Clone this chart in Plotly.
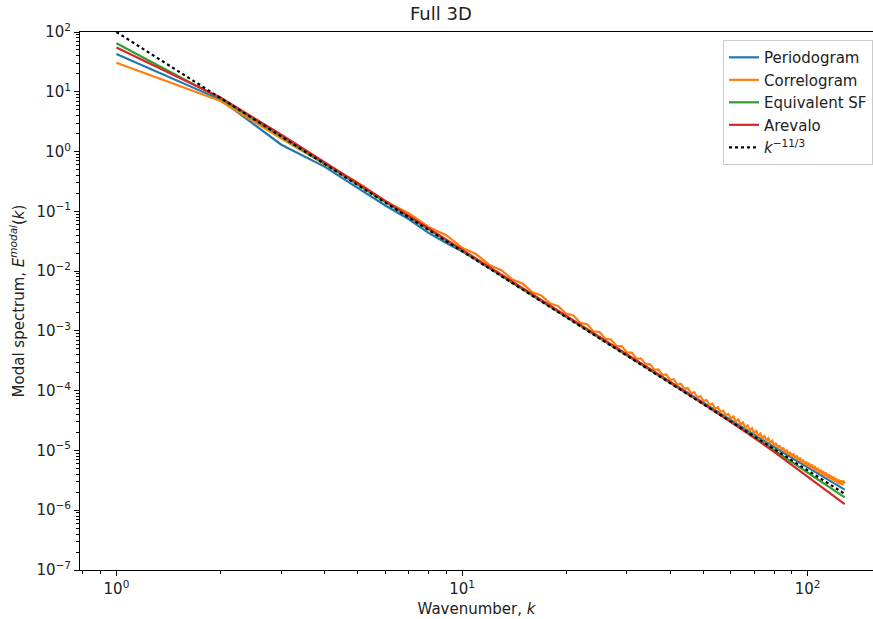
import plotly.graph_objects as go

# Wavenumbers of the smooth estimators (sampled) and of the correlogram (every integer k)
k_smooth = [1, 2, 3, 4, 5, 6, 7, 8, 9, 10, 12, 14, 16, 20, 25, 32, 40, 50, 64, 80, 100, 128]
k_full = list(range(1, 129))

periodogram = [43.0, 7.4, 1.3, 0.56, 0.244, 0.125, 0.0743, 0.0436, 0.0296, 0.0215,
               0.0113, 6.49e-3, 3.98e-3, 1.778e-3, 7.83e-4, 3.17e-4, 1.40e-4, 6.17e-5,
               2.52e-5, 1.14e-5, 5.21e-6, 2.21e-6]

equivalent_sf = [65.0, 7.69, 1.78, 0.634, 0.280, 0.1435, 0.0815, 0.0500, 0.0324, 0.0220,
                 0.0113, 6.45e-3, 3.95e-3, 1.745e-3, 7.69e-4, 3.10e-4, 1.368e-4, 5.96e-5,
                 2.38e-5, 1.005e-5, 4.28e-6, 1.64e-6]

arevalo = [55.0, 8.05, 1.91, 0.664, 0.293, 0.150, 0.0853, 0.0524, 0.0340, 0.0231,
           0.01183, 6.72e-3, 4.12e-3, 1.82e-3, 8.02e-4, 3.21e-4, 1.40e-4, 6.03e-5,
           2.33e-5, 9.48e-6, 3.69e-6, 1.27e-6]

correlogram = [
    30.6, 7.0, 1.65, 0.62, 0.300, 0.1468, 0.0936, 0.0548, 0.0399, 0.0247,
    0.01912, 0.01268, 0.01036, 7.20e-3, 6.13e-3, 4.41e-3, 3.88e-3, 2.87e-3, 2.58e-3, 1.95e-3,
    1.806e-3, 1.358e-3, 1.294e-3, 9.87e-4, 9.53e-4, 7.36e-4, 7.19e-4, 5.61e-4, 5.53e-4, 4.35e-4,
    4.33e-4, 3.44e-4, 3.44e-4, 2.75e-4, 2.78e-4, 2.23e-4, 2.26e-4, 1.83e-4, 1.87e-4, 1.52e-4,
    1.554e-4, 1.268e-4, 1.305e-4, 1.069e-4, 1.104e-4, 9.08e-5, 9.42e-5, 7.77e-5, 8.08e-5, 6.69e-5,
    6.98e-5, 5.79e-5, 6.06e-5, 5.04e-5, 5.29e-5, 4.42e-5, 4.64e-5, 3.88e-5, 4.09e-5, 3.43e-5,
    3.70e-5, 3.04e-5, 3.29e-5, 2.71e-5, 2.94e-5, 2.42e-5, 2.63e-5, 2.17e-5, 2.36e-5, 1.949e-5,
    2.12e-5, 1.757e-5, 1.918e-5, 1.589e-5, 1.737e-5, 1.458e-5, 1.595e-5, 1.326e-5, 1.452e-5, 1.208e-5,
    1.325e-5, 1.103e-5, 1.212e-5, 1.010e-5, 1.110e-5, 9.27e-6, 1.019e-5, 8.51e-6, 9.38e-6, 7.84e-6,
    8.85e-6, 7.40e-6, 8.17e-6, 6.84e-6, 7.56e-6, 6.33e-6, 7.00e-6, 5.87e-6, 6.50e-6, 5.45e-6,
    6.18e-6, 5.07e-6, 5.81e-6, 4.78e-6, 5.48e-6, 4.46e-6, 5.12e-6, 4.21e-6, 4.78e-6, 3.98e-6,
    4.52e-6, 3.72e-6, 4.29e-6, 3.53e-6, 4.02e-6, 3.31e-6, 3.82e-6, 3.15e-6, 3.63e-6, 2.99e-6,
    3.41e-6, 2.82e-6, 3.25e-6, 2.69e-6, 3.17e-6, 2.62e-6, 3.13e-6, 2.78e-6,
]

# Kolmogorov reference slope k^(-11/3), normalised to 100 at k = 1
k_ref = [1, 128]
kolmogorov = [100.0, 1.88e-6]

y_tick_vals = [1e-7, 1e-6, 1e-5, 1e-4, 1e-3, 1e-2, 1e-1, 1e0, 1e1, 1e2]
y_tick_text = ["10<sup>−7</sup>", "10<sup>−6</sup>", "10<sup>−5</sup>", "10<sup>−4</sup>",
               "10<sup>−3</sup>", "10<sup>−2</sup>", "10<sup>−1</sup>", "10<sup>0</sup>",
               "10<sup>1</sup>", "10<sup>2</sup>"]
x_tick_vals = [1, 10, 100]
x_tick_text = ["10<sup>0</sup>", "10<sup>1</sup>", "10<sup>2</sup>"]

# minor ticks at 2..9 of every decade
mults = [2, 3, 4, 5, 6, 7, 8, 9]
x_minor = [0.8, 0.9] + [m * d for d in (1, 10) for m in mults]
y_minor = [m * 10.0 ** e for e in range(-7, 2) for m in mults]

FONT = "DejaVu Sans"
LW = 2.2

fig = go.Figure()
fig.add_trace(go.Scatter(x=k_smooth, y=periodogram, mode="lines", name="Periodogram",
                         line=dict(color="#1f77b4", width=LW)))
fig.add_trace(go.Scatter(x=k_full, y=correlogram, mode="lines", name="Correlogram",
                         line=dict(color="#ff7f0e", width=LW)))
fig.add_trace(go.Scatter(x=k_smooth, y=equivalent_sf, mode="lines", name="Equivalent SF",
                         line=dict(color="#2ca02c", width=LW)))
fig.add_trace(go.Scatter(x=k_smooth, y=arevalo, mode="lines", name="Arevalo",
                         line=dict(color="#d62728", width=LW)))
fig.add_trace(go.Scatter(x=k_ref, y=kolmogorov, mode="lines",
                         name="<i>k</i><sup>−11/3</sup>",
                         line=dict(color="black", width=LW, dash="dot")))

axis_common = dict(
    type="log", showgrid=False, zeroline=False, showline=True,
    linecolor="black", linewidth=1, ticks="outside", ticklen=5, tickwidth=1,
    tickcolor="black", tickfont=dict(family=FONT, size=15, color="#222"),
)

fig.update_xaxes(range=[-0.1054, 2.1892], tickvals=x_tick_vals, ticktext=x_tick_text,
                 mirror=True,
                 minor=dict(tickvals=x_minor, ticks="outside", ticklen=3, tickwidth=0.8,
                            tickcolor="black", showgrid=False),
                 title=dict(text="Wavenumber, <i>k</i>", font=dict(family=FONT, size=15, color="#222"),
                            standoff=6),
                 **axis_common)
fig.update_yaxes(range=[-7, 2], tickvals=y_tick_vals, ticktext=y_tick_text,
                 minor=dict(tickvals=y_minor, ticks="outside", ticklen=3, tickwidth=0.8,
                            tickcolor="black", showgrid=False),
                 title=dict(text="Modal spectrum, <i>E</i><sup><i>modal</i></sup>(<i>k</i>)",
                            font=dict(family=FONT, size=15, color="#222"), standoff=8),
                 **axis_common)

fig.update_layout(
    width=873, height=619,
    margin=dict(l=80, r=0, t=32, b=49),
    paper_bgcolor="white", plot_bgcolor="white",
    font=dict(family=FONT, size=15, color="#222"),
    title=dict(text="Full 3D", x=0.505, xanchor="center", y=1 - 14 / 619, yanchor="middle",
               font=dict(family=FONT, size=18, color="#222")),
    legend=dict(x=1.0, xanchor="right", y=0.985, yanchor="top",
                bgcolor="rgba(255,255,255,0.85)", bordercolor="#cccccc", borderwidth=1,
                font=dict(family=FONT, size=15, color="#222")),
)

fig.write_html("out.html")
